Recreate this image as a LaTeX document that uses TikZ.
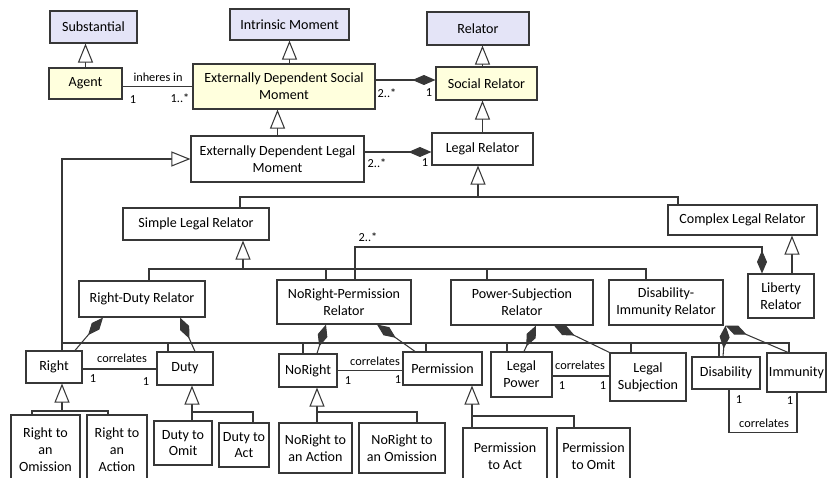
\documentclass[tikz,border=0pt]{standalone}
\usepackage{fontspec}
\setmainfont{Carlito}
\usetikzlibrary{positioning,arrows.meta}
\definecolor{lav}{RGB}{228,228,247}
\definecolor{yel}{RGB}{255,255,221}
\definecolor{ln}{RGB}{55,55,55}

\begin{document}
\begin{tikzpicture}[
  cls/.style={draw=ln, line width=0.65pt, rectangle, align=center, inner sep=1pt, font=\fontsize{8}{9.6}\selectfont},
  gen/.style={draw=ln, line width=0.6pt, -{Triangle[open, fill=white, length=0.38cm, width=0.30cm]}},
  comp/.style={draw=ln, line width=0.6pt, {Diamond[length=0.46cm, width=0.20cm]}-},
  lnk/.style={draw=ln, line width=0.6pt},
  lbl/.style={font=\fontsize{7}{8}\selectfont, inner sep=0pt}
]
\useasboundingbox (0,0) rectangle (16.54,-9.56);

% top classes
\node[cls, fill=lav, minimum width=1.74cm, minimum height=0.64cm] (SUB) at (1.87,-0.54) {Substantial};
\node[cls, fill=lav, minimum width=2.38cm, minimum height=0.62cm] (IM) at (5.79,-0.49) {Intrinsic Moment};
\node[cls, fill=lav, minimum width=2.04cm, minimum height=0.66cm] (REL) at (9.56,-0.57) {Relator};
\node[cls, fill=yel, minimum width=1.46cm, minimum height=0.62cm] (AG) at (1.71,-1.67) {Agent};
\node[cls, fill=yel, minimum width=3.64cm, minimum height=0.90cm] (EDSM) at (5.68,-1.73) {Externally Dependent Social\\Moment};
\node[cls, fill=yel, minimum width=2.02cm, minimum height=0.66cm] (SR) at (9.73,-1.67) {Social Relator};
\node[cls, minimum width=3.46cm, minimum height=0.92cm] (EDLM) at (5.55,-3.18) {Externally Dependent Legal\\Moment};
\node[cls, minimum width=2.02cm, minimum height=0.64cm] (LR) at (9.65,-2.98) {Legal Relator};

% relators
\node[cls, minimum width=2.92cm, minimum height=0.64cm] (SLR) at (3.92,-4.48) {Simple Legal Relator};
\node[cls, minimum width=2.98cm, minimum height=0.60cm] (CLR) at (14.85,-4.40) {Complex Legal Relator};
\node[cls, minimum width=2.52cm, minimum height=0.72cm] (RDR) at (2.84,-5.98) {Right-Duty Relator};
\node[cls, minimum width=2.68cm, minimum height=0.88cm] (NPR) at (6.88,-6.04) {NoRight-Permission\\Relator};
\node[cls, minimum width=2.84cm, minimum height=0.90cm] (PSR) at (10.44,-6.05) {Power-Subjection\\Relator};
\node[cls, minimum width=2.28cm, minimum height=0.90cm] (DIR) at (13.32,-6.05) {Disability-\\Immunity Relator};
\node[cls, minimum width=1.32cm, minimum height=0.88cm] (LIB) at (15.62,-5.92) {Liberty\\Relator};

% positions
\node[cls, minimum width=1.12cm, minimum height=0.64cm] (RT) at (1.08,-7.34) {Right};
\node[cls, minimum width=1.12cm, minimum height=0.66cm] (DU) at (3.70,-7.37) {Duty};
\node[cls, minimum width=1.16cm, minimum height=0.66cm] (NR) at (6.16,-7.41) {NoRight};
\node[cls, minimum width=1.58cm, minimum height=0.66cm] (PM) at (8.85,-7.37) {Permission};
\node[cls, minimum width=1.22cm, minimum height=0.90cm] (LP) at (10.43,-7.49) {Legal\\Power};
\node[cls, minimum width=1.52cm, minimum height=0.96cm] (LS) at (12.96,-7.54) {Legal\\Subjection};
\node[cls, minimum width=1.36cm, minimum height=0.64cm] (DIS) at (14.52,-7.46) {Disability};
\node[cls, minimum width=1.18cm, minimum height=0.78cm] (IMM) at (15.93,-7.45) {Immunity};

% kinds
\node[cls, minimum width=1.38cm, minimum height=1.38cm] (RTO) at (0.91,-8.99) {Right to\\an\\Omission};
\node[cls, minimum width=1.20cm, minimum height=1.38cm] (RTA) at (2.34,-8.99) {Right to\\an\\Action};
\node[cls, minimum width=1.16cm, minimum height=0.88cm] (DTO) at (3.66,-8.86) {Duty to\\Omit};
\node[cls, minimum width=1.00cm, minimum height=0.88cm] (DTA) at (4.88,-8.90) {Duty to\\Act};
\node[cls, minimum width=1.46cm, minimum height=1.00cm] (NRA) at (6.31,-8.96) {NoRight to\\an Action};
\node[cls, minimum width=1.72cm, minimum height=1.00cm] (NRO) at (8.04,-8.96) {NoRight to\\an Omission};
\node[cls, minimum width=1.68cm, minimum height=1.12cm] (PTA) at (10.10,-9.12) {Permission\\to Act};
\node[cls, minimum width=1.46cm, minimum height=1.12cm] (PTO) at (11.87,-9.12) {Permission\\to Omit};

% joints
\coordinate (RJ) at (9.56,-3.94);
\coordinate (SJ) at (4.86,-5.38);
\coordinate (LJ) at (7.10,-4.94);
\coordinate (PJ) at (1.24,-6.86);
\coordinate (RTJ) at (1.24,-8.22);
\coordinate (DJ) at (3.84,-8.24);
\coordinate (NJ) at (6.34,-8.24);
\coordinate (PMJ) at (9.44,-8.32);

% generalizations
\draw[gen] (AG.north) -- (AG.north |- SUB.south);
\draw[gen] (EDSM.north -| IM.south) -- (IM.south);
\draw[gen] ([xshift=-0.08cm]SR.north) -- ([xshift=-0.08cm]SR.north |- REL.south);
\draw[gen] (EDLM.north) -- (EDLM.north |- EDSM.south);
\draw[gen] (LR.north) -- (LR.north |- SR.south);
\draw[gen] (RJ) -- (RJ |- LR.south);
\draw[lnk] ([xshift=0.88cm]SLR.north) |- (RJ) -| ([xshift=-1.29cm]CLR.north);
\draw[gen] (SJ) -- (SJ |- SLR.south);
\draw[lnk] ([xshift=0.14cm]RDR.north) |- (SJ) -| ([xshift=-0.40cm]DIR.north);
\draw[lnk] ([xshift=-0.36cm]NPR.north) -- ([xshift=-0.36cm]NPR.north |- SJ);
\draw[lnk] ([xshift=-0.70cm]PSR.north) -- ([xshift=-0.70cm]PSR.north |- SJ);
\draw[gen] ([xshift=0.22cm]LIB.north) -- ([xshift=0.22cm]LIB.north |- CLR.south);
\draw[gen] (PJ) |- (EDLM.west);
\draw[lnk] ([xshift=0.16cm]RT.north) |- ([xshift=-0.15cm]IMM.north |- PJ) -- ([xshift=-0.15cm]IMM.north);
\foreach \n/\s in {DU/-0.34, NR/-0.10, PM/-0.33, LP/-0.29, LS/-0.34, DIS/-0.14}
  \draw[lnk] ([xshift=\s cm]\n.north) -- ([xshift=\s cm]\n.north |- PJ);
\draw[gen] (RTJ) -- (RTJ |- RT.south);
\draw[lnk] ([xshift=-0.27cm]RTO.north) |- (RTJ) -| ([xshift=-0.18cm]RTA.north);
\draw[gen] (DJ |- DTO.north) -- (DJ |- DU.south);
\draw[lnk] (DJ) -| ([xshift=0.18cm]DTA.north);
\draw[gen] (NJ |- NRA.north) -- (NJ |- NR.south);
\draw[lnk] (NJ) -| ([xshift=0.30cm]NRO.north);
\draw[gen] (PMJ |- PTA.north) -- (PMJ |- PM.south);
\draw[lnk] (PMJ) -| ([xshift=-0.39cm]PTO.north);

% compositions
\draw[comp] ([yshift=0.07cm]SR.west) -- ([yshift=0.07cm]SR.west -| EDSM.east);
\draw[comp] ([yshift=-0.06cm]LR.west) -- ([yshift=-0.06cm]LR.west -| EDLM.east);
\draw[comp] ([xshift=-0.38cm]LIB.north) |- (LJ) -- (LJ |- NPR.north);
\draw[comp] ([xshift=-0.78cm]RDR.south) -- ([xshift=0.42cm]RT.north);
\draw[comp] ([xshift=0.76cm]RDR.south) -- ([xshift=0.20cm]DU.north);
\draw[comp] ([xshift=-0.36cm]NPR.south) -- ([xshift=0.18cm]NR.north);
\draw[comp] ([xshift=0.66cm]NPR.south) -- ([xshift=-0.55cm]PM.north);
\draw[comp] ([xshift=0.28cm]PSR.south) -- ([xshift=0.05cm]LP.north);
\draw[comp] ([xshift=0.64cm]PSR.south) -- (LS.north west);
\draw[comp] ([xshift=0.04cm]DIR.south east) -- ([xshift=-0.06cm]DIS.north);
\draw[comp] ([xshift=0.04cm]DIR.south east) -- ([xshift=-0.17cm]IMM.north);

% associations
\draw[lnk] (EDSM.west) -- (EDSM.west -| AG.east);
\draw[lnk] ([yshift=-0.04cm]RT.east) -- ([yshift=-0.04cm]RT.east -| DU.west);
\draw[lnk] (NR.east) -- (NR.east -| PM.west);
\draw[lnk] ([yshift=-0.03cm]LP.east) -- ([yshift=-0.03cm]LP.east -| LS.west);
\draw[lnk] ([xshift=0.06cm]DIS.south) -- ++(0,-0.86) -| ([xshift=0.01cm]IMM.south);

% labels
\node[lbl] (L1) at (3.16,-1.54) {inheres in};
\node[lbl] (M1) at (2.66,-2.00) {1};
\node[lbl] (M2) at (3.60,-1.96) {1..*};
\node[lbl] (M3) at (7.74,-1.86) {2..*};
\node[lbl] (M4) at (8.58,-1.86) {1};
\node[lbl] (M5) at (7.54,-3.26) {2..*};
\node[lbl] (M6) at (8.50,-3.26) {1};
\node[lbl] (M7) at (7.36,-4.74) {2..*};
\node[lbl] (L2) at (2.44,-7.16) {correlates};
\node[lbl] (M8) at (1.86,-7.58) {1};
\node[lbl] (M9) at (2.92,-7.64) {1};
\node[lbl] (L3) at (7.50,-7.22) {correlates};
\node[lbl] (M10) at (6.96,-7.62) {1};
\node[lbl] (M11) at (7.96,-7.60) {1};
\node[lbl] (L4) at (11.60,-7.30) {correlates};
\node[lbl] (M12) at (11.24,-7.72) {1};
\node[lbl] (M13) at (12.06,-7.72) {1};
\node[lbl] (M14) at (14.78,-8.00) {1};
\node[lbl] (M15) at (15.80,-8.02) {1};
\node[lbl] (L5) at (15.28,-8.46) {correlates};
\end{tikzpicture}
\end{document}
